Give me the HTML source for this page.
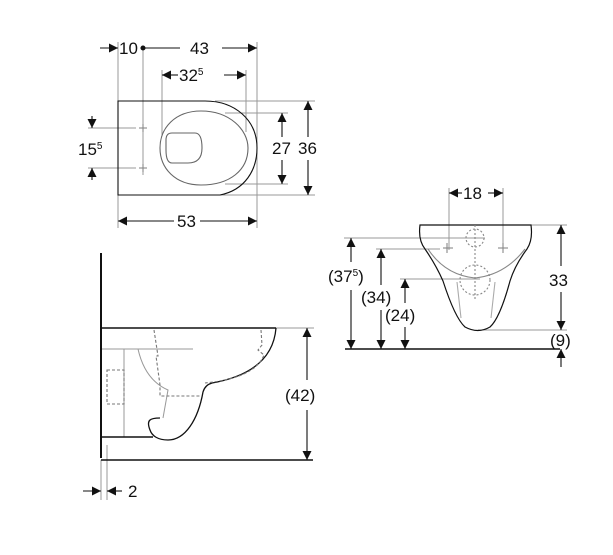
<!DOCTYPE html>
<html><head><style>html,body{margin:0;padding:0;background:#fff}svg{display:block}text{font-family:"Liberation Sans",sans-serif;font-size:17px;fill:#111}</style></head>
<body>
<svg width="613" height="555" viewBox="0 0 613 555" xmlns="http://www.w3.org/2000/svg">
<defs>
<marker id="a" viewBox="0 0 10 10" refX="10" refY="5" markerWidth="9" markerHeight="9" orient="auto-start-reverse" markerUnits="userSpaceOnUse"><path d="M0,0 L10,5 L0,10z" fill="#111"/></marker>
</defs>
<g stroke="#999" stroke-width="1" fill="none">
<line x1="118" y1="42" x2="118" y2="228"/><line x1="143" y1="48" x2="143" y2="175"/><line x1="257" y1="42" x2="257" y2="228"/>
<line x1="162" y1="70" x2="162" y2="136"/><line x1="246" y1="70" x2="246" y2="132"/>
<line x1="88" y1="128" x2="136" y2="128"/><line x1="88" y1="168" x2="136" y2="168"/>
<line x1="225" y1="113" x2="288" y2="113"/><line x1="225" y1="184" x2="288" y2="184"/>
<line x1="215" y1="101" x2="315" y2="101"/><line x1="220" y1="195" x2="315" y2="195"/>
<line x1="449" y1="188" x2="449" y2="250"/><line x1="503" y1="188" x2="503" y2="250"/>
<line x1="344" y1="238" x2="485" y2="238"/><line x1="376" y1="249" x2="440" y2="249"/><line x1="400" y1="279" x2="480" y2="279"/>
<line x1="531" y1="225" x2="567" y2="225"/><line x1="478" y1="330" x2="567" y2="330"/>
<line x1="276" y1="328" x2="314" y2="328"/><line x1="107" y1="445" x2="107" y2="500"/><line x1="101" y1="460" x2="101" y2="500"/>
<line x1="101" y1="349" x2="193" y2="349"/><line x1="124" y1="349" x2="124" y2="437"/>
<path d="M138,349 Q145,380 168,390 L163,418"/>
</g>
<g stroke="#111" stroke-width="1.1" fill="none">
<path d="M205,101 L118,101 L118,195 L220,195 C245,190 257,170 257,148 C257,120 235,101 205,101Z"/>
<path d="M201,111 C230,111 248,130 248,148 C248,170 230,185 201,185 C175,185 160,168 160,148 C160,128 175,111 201,111Z" stroke="#666"/>
<path d="M172,133 L195,133 Q202,133 202,148 Q202,163 188,163 L172,163 Q166,163 166,150 L166,140 Q166,133 172,133Z" stroke="#666"/>
<g stroke="#888"><line x1="139" y1="128" x2="147" y2="128"/><line x1="143" y1="124" x2="143" y2="132"/><line x1="139" y1="168" x2="147" y2="168"/><line x1="143" y1="164" x2="143" y2="172"/></g>
<line x1="100" y1="48" x2="118" y2="48" marker-end="url(#a)"/>
<line x1="143" y1="48" x2="180" y2="48"/><line x1="222" y1="48" x2="257" y2="48" marker-end="url(#a)"/>
<circle cx="143" cy="48" r="2" fill="#111"/>
<line x1="162" y1="75" x2="178" y2="75" marker-start="url(#a)"/><line x1="224" y1="75" x2="246" y2="75" marker-end="url(#a)"/>
<line x1="92" y1="116" x2="92" y2="128" marker-end="url(#a)"/><line x1="92" y1="180" x2="92" y2="168" marker-end="url(#a)"/>
<line x1="282" y1="113" x2="282" y2="137" marker-start="url(#a)"/><line x1="282" y1="160" x2="282" y2="184" marker-end="url(#a)"/>
<line x1="308" y1="101" x2="308" y2="137" marker-start="url(#a)"/><line x1="308" y1="160" x2="308" y2="195" marker-end="url(#a)"/>
<line x1="118" y1="221" x2="174" y2="221" marker-start="url(#a)"/><line x1="200" y1="221" x2="257" y2="221" marker-end="url(#a)"/>
<line x1="101" y1="253" x2="101" y2="458" stroke-width="2"/>
<line x1="101" y1="328" x2="276" y2="328" stroke-width="1.4"/>
<line x1="101" y1="460" x2="313" y2="460" stroke-width="1.4"/>
<line x1="101" y1="437" x2="153" y2="437" stroke-width="1.4"/>
<path d="M276,328 C273,365 240,378 212,383 Q205,385 203,392 C198,420 185,440 168,440 C158,440 152,436 150,430 C146,420 150,418 160,418" stroke-width="1.3"/>
<g stroke="#777" stroke-dasharray="3,2"><path d="M154,330 L158,356 L156,356 L160,385 L160,396 L201,396"/><path d="M261,330 L262,345 L258,350 L264,355 Q255,378 205,383"/><rect x="107" y="370" width="17" height="34"/></g>
<line x1="307" y1="328" x2="307" y2="380" marker-start="url(#a)"/><line x1="307" y1="410" x2="307" y2="460" marker-end="url(#a)"/>
<line x1="83" y1="491" x2="101" y2="491" marker-end="url(#a)"/><line x1="122" y1="491" x2="107" y2="491" marker-end="url(#a)"/>
<path d="M420,225 L531,225 Q533,240 527,249 Q515,265 510,281 Q500,318 490,327 Q478,334 465,327 Q455,318 443,281 Q436,265 425,249 Q418,240 420,225Z" stroke-width="1.2"/>
<path d="M428,249 Q445,275 475,278 Q505,275 525,249" stroke="#888"/>
<path d="M457,282 L461,318 M495,282 L491,318" stroke="#aaa"/>
<g stroke="#888"><line x1="443" y1="248" x2="453" y2="248"/><line x1="447" y1="243" x2="447" y2="253"/><line x1="498" y1="248" x2="508" y2="248"/><line x1="503" y1="243" x2="503" y2="253"/></g>
<g stroke="#888" stroke-dasharray="2,2"><circle cx="475" cy="238" r="9"/><circle cx="475" cy="280" r="15"/><line x1="475" y1="225" x2="475" y2="300"/></g>
<line x1="345" y1="349" x2="560" y2="349" stroke-width="1.5"/>
<line x1="449" y1="193" x2="462" y2="193" marker-start="url(#a)"/><line x1="488" y1="193" x2="503" y2="193" marker-end="url(#a)"/>
<line x1="351" y1="238" x2="351" y2="262" marker-start="url(#a)"/><line x1="351" y1="290" x2="351" y2="349" marker-end="url(#a)"/>
<line x1="381" y1="249" x2="381" y2="285" marker-start="url(#a)"/><line x1="381" y1="310" x2="381" y2="349" marker-end="url(#a)"/>
<line x1="405" y1="279" x2="405" y2="303" marker-start="url(#a)"/><line x1="405" y1="327" x2="405" y2="349" marker-end="url(#a)"/>
<line x1="561" y1="225" x2="561" y2="266" marker-start="url(#a)"/><line x1="561" y1="292" x2="561" y2="330" marker-end="url(#a)"/>
<line x1="561" y1="367" x2="561" y2="349" marker-end="url(#a)"/>
</g>
<text x="119" y="54">10</text>
<text x="190" y="54">43</text>
<text x="179" y="81">32<tspan font-size="10" dy="-6">5</tspan></text>
<text x="78" y="155">15<tspan font-size="10" dy="-6">5</tspan></text>
<text x="272" y="154">27</text>
<text x="298" y="154">36</text>
<text x="177" y="227">53</text>
<text x="285" y="401">(42)</text>
<text x="128" y="497">2</text>
<text x="463" y="199">18</text>
<text x="328" y="282">(37<tspan font-size="10" dy="-6">5</tspan><tspan dy="6">)</tspan></text>
<text x="361" y="303">(34)</text>
<text x="385" y="321">(24)</text>
<text x="549" y="286">33</text>
<text x="550" y="346">(9)</text>
</svg>
</body></html>
